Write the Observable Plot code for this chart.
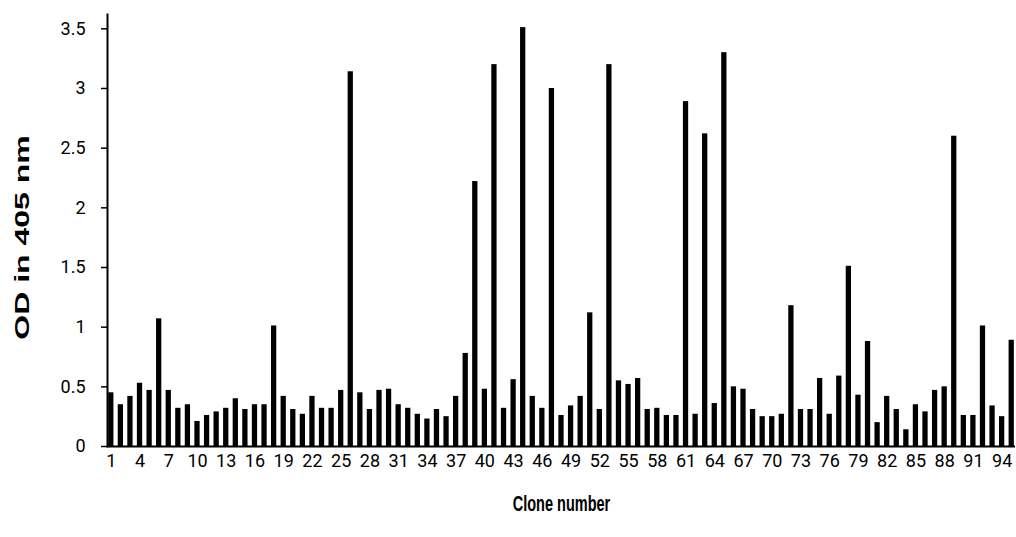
<!DOCTYPE html>
<html>
<head>
<meta charset="utf-8">
<script src="https://cdn.jsdelivr.net/npm/d3@7"></script>
<script src="https://cdn.jsdelivr.net/npm/@observablehq/plot@0.6"></script>
<style>
  body { margin: 0; background: #fff; }
</style>
</head>
<body>
<div id="chart"></div>
<script>
// Clone numbers (categories)
const clones = [1,2,3,4,5,6,7,8,9,10,11,12,13,14,15,16,17,18,19,20,
  21,22,23,24,25,26,27,28,29,30,31,32,33,34,35,36,37,38,39,40,
  41,42,43,44,45,46,47,48,49,50,51,52,53,54,55,56,57,58,59,60,
  61,62,63,64,65,66,67,68,69,70,71,72,73,74,75,76,77,78,79,80,
  81,82,83,84,85,86,87,88,89,90,91,92,93,94,95];

// OD at 405 nm
const od = [0.45,0.35,0.42,0.53,0.47,1.07,0.47,0.32,0.35,0.21,
  0.26,0.29,0.32,0.40,0.31,0.35,0.35,1.01,0.42,0.31,
  0.27,0.42,0.32,0.32,0.47,3.14,0.45,0.31,0.47,0.48,
  0.35,0.32,0.27,0.23,0.31,0.25,0.42,0.78,2.22,0.48,
  3.20,0.32,0.56,3.51,0.42,0.32,3.00,0.26,0.34,0.42,
  1.12,0.31,3.20,0.55,0.52,0.57,0.31,0.32,0.26,0.26,
  2.89,0.27,2.62,0.36,3.30,0.50,0.48,0.31,0.25,0.25,
  0.27,1.18,0.31,0.31,0.57,0.27,0.59,1.51,0.43,0.88,
  0.20,0.42,0.31,0.14,0.35,0.29,0.47,0.50,2.60,0.26,
  0.26,1.01,0.34,0.25,0.89];

// Tick labels
const xTicks = [1,4,7,10,13,16,19,22,25,28,31,34,37,40,43,46,49,52,55,58,61,64,67,70,73,76,79,82,85,88,91,94];
const yTicks = [0,0.5,1,1.5,2,2.5,3,3.5];

const xTitle = "Clone number";
const yTitle = "OD in 405 nm";

const data = clones.map((c, i) => ({clone: c, od: od[i]}));

const chart = Plot.plot({
  width: 1016,
  height: 537,
  marginLeft: 107,
  marginRight: 1,
  marginTop: 14,
  marginBottom: 91,
  style: {fontFamily: "Roboto", fontSize: "18px", color: "#000", background: "#fff", overflow: "visible"},
  x: {type: "band", domain: clones, paddingInner: 0.45, paddingOuter: 0.12, label: null},
  y: {domain: [0, 3.62], label: null},
  marks: [
    Plot.barY(data, {x: "clone", y: "od", fill: "#000"}),
    Plot.axisY({ticks: yTicks, tickSize: 6, tickPadding: 16, strokeWidth: 1.5, tickFormat: d => String(d), label: null}),
    Plot.axisX({ticks: xTicks, tickSize: 0, tickPadding: 8, label: null}),
    Plot.frame({anchor: "left", strokeWidth: 2, stroke: "#000"}),
    Plot.ruleY([0], {strokeWidth: 2, stroke: "#000"}),
    Plot.text([yTitle], {frameAnchor: "left", dx: -85, dy: 7, rotate: -90, text: d => d,
      fontWeight: "bold", fontSize: 32, fontFamily: "Liberation Sans", textAnchor: "middle", lineAnchor: "middle", className: "ytitle"}),
    Plot.text([xTitle], {frameAnchor: "bottom", dy: 57, text: d => d,
      fontWeight: "bold", fontSize: 22, fontFamily: "Liberation Sans", textAnchor: "middle", lineAnchor: "middle", className: "xtitle"})
  ]
});

// Compress the titles horizontally to match the condensed look of the reference
d3.select(chart).selectAll(".ytitle text").attr("transform", function() {
  return (this.getAttribute("transform") || "") + " scale(1,0.62)";
});
d3.select(chart).selectAll(".xtitle text").attr("transform", function() {
  return (this.getAttribute("transform") || "") + " scale(0.66,1)";
});

document.getElementById("chart").appendChild(chart);
</script>
</body>
</html>
